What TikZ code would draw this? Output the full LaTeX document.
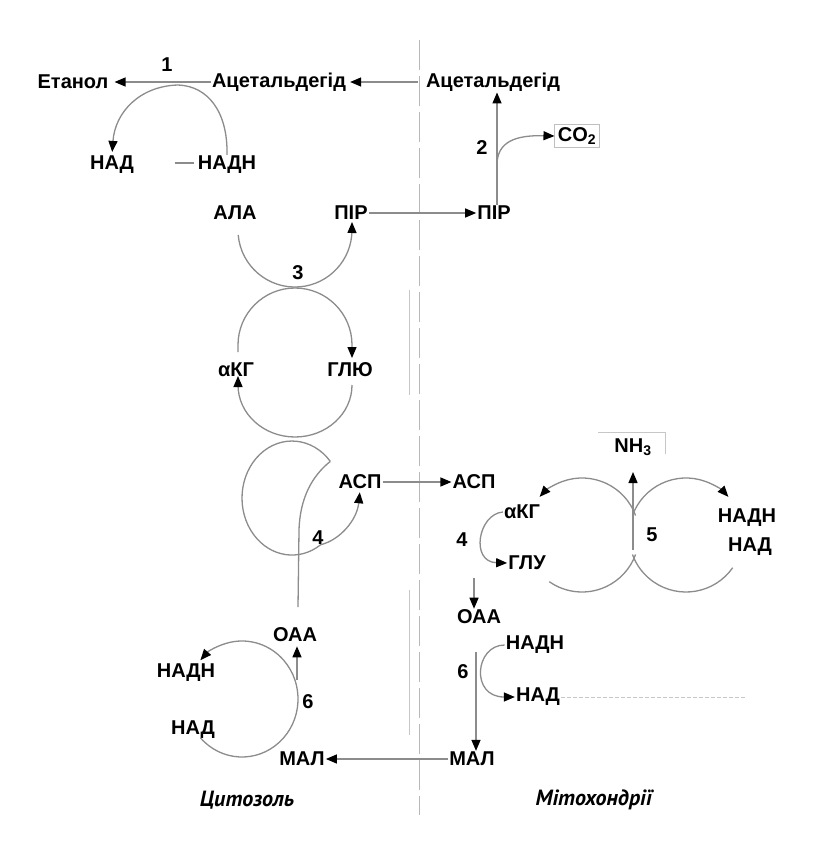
\documentclass[tikz,border=0pt]{standalone}
\usepackage{fontspec}
\setmainfont{Liberation Sans}
\newfontfamily\captionfont{PT Sans}
\usetikzlibrary{arrows.meta,calc}

\begin{document}
\begin{tikzpicture}[x=1pt,y=1pt,
  lbl/.style={font=\bfseries\fontsize{20}{24}\selectfont, inner sep=1pt},
  compartment/.style={font=\captionfont\bfseries\itshape\fontsize{22}{26}\selectfont, inner sep=1pt},
  ln/.style={draw=black!45, line width=1.3pt},
  arr/.style={ln, -{Triangle[length=11pt,width=9pt,color=black]}},
  faint/.style={draw=black!22, line width=0.9pt},
  membrane/.style={draw=black!28, line width=1pt, dash pattern=on 30pt off 6pt}]

\fill[white] (0,0) rectangle (813,-842);
\useasboundingbox (0,0) rectangle (813,-842);

% membrane between cytosol and mitochondrion
\draw[membrane] (419,-40) -- (419,-815);
\draw[faint] (409,-290) -- (409,-395);
\draw[faint] (409,-590) -- (409,-735);

% ---- labels ----
\node[lbl] (etanol) at (73,-82) {Етанол};
\node[lbl] (acl) at (279,-82) {Ацетальдегід};
\node[lbl] (acr) at (493,-82) {Ацетальдегід};
\node[lbl] (n1) at (167,-65) {1};
\node[lbl] (nad1) at (112,-165) {НАД};
\node[lbl] (nadh1) at (227,-165) {НАДН};
\node[lbl] (n2) at (482,-148) {2};
\node[lbl, draw=black!25, line width=0.8pt, inner sep=3pt] (co2) at (577,-136) {CO\textsubscript{2}};
\node[lbl] (ala) at (235,-213) {АЛА};
\node[lbl] (pirl) at (351,-213) {ПІР};
\node[lbl] (pirr) at (494,-213) {ПІР};
\node[lbl] (n3) at (298,-273) {3};
\node[lbl] (akg1) at (236,-370) {αКГ};
\node[lbl] (glu1) at (350,-370) {ГЛЮ};
\node[lbl] (asp1) at (360,-482) {АСП};
\node[lbl] (asp2) at (474,-482) {АСП};
\node[lbl] (n4l) at (318,-538) {4};
\node[lbl] (oaal) at (295,-635) {ОАА};
\node[lbl] (n6l) at (308,-702) {6};
\node[lbl] (nadh2) at (186,-673) {НАДН};
\node[lbl] (nad2) at (193,-730) {НАД};
\node[lbl] (mall) at (302,-759) {МАЛ};
\node[lbl] (malr) at (472,-759) {МАЛ};
\node[lbl] (oaar) at (479,-617) {ОАА};
\node[lbl] (nadh3) at (535,-645) {НАДН};
\node[lbl] (nad3) at (538,-697) {НАД};
\node[lbl] (n6r) at (463,-672) {6};
\node[lbl] (akg2) at (522,-512) {αКГ};
\node[lbl] (glu2) at (527,-563) {ГЛУ};
\node[lbl] (n4r) at (462,-540) {4};
\node[lbl] (nh3) at (633,-447) {NH\textsubscript{3}};
\node[lbl] (n5) at (652,-535) {5};
\node[lbl] (nadh4) at (747,-518) {НАДН};
\node[lbl] (nad4) at (750,-547) {НАД};
\node[compartment] (cyto) at (247,-800) {Цитозоль};
\node[compartment] (mito) at (594,-800) {Мітохондрії};

% ---- reaction 1: acetaldehyde -> ethanol ----
\coordinate (m1) at (418,-82);
\draw[arr, shorten >=3pt] (m1) -- (acl.east);
\draw[arr, shorten >=5pt] (acl.west) -- (etanol.east);
\draw[arr, shorten >=3pt] (nadh1.north) .. controls (228,-112) and (208,-86) .. (178,-85)
  .. controls (140,-86) and (115,-112) .. (nad1.north);
\draw[ln] ($(nadh1.west)+(-22,2)$) -- ($(nadh1.west)+(-3,2)$);

% ---- reaction 2: pyruvate decarboxylation ----
\coordinate (p2) at (497,-200);
\coordinate (b2) at (497,-165);
\draw[arr] (pirr.north -| p2) -- (acr.south -| p2);
\draw[arr] (b2) .. controls (497,-142) and (515,-135) .. (co2.west);

% pyruvate transport
\draw[arr] (pirl.east) -- (pirr.west);

% ---- reaction 3: transamination ----
\draw[arr] (238.2,-235) arc[start angle=185, end angle=360, radius=57] -- (352,-222);
\draw[arr] (238,-352) -- (238,-345) arc[start angle=180, end angle=0, radius=57] -- (352,-358);
\draw[arr] (352,-385) arc[start angle=0, end angle=-180, x radius=57, y radius=52] -- (238,-376);

% ---- reaction 4 (cytosol) ----
\coordinate (t4) at (330.3,-461.4);
\coordinate (o4) at (298,-607);
\draw[arr, shorten >=2pt] (t4) arc[start angle=40, end angle=305, x radius=50, y radius=57]
  .. controls (340,-540) and (357,-520) .. (asp1.south);
\draw[ln] (t4) .. controls (312,-476) and (300,-498) .. (299,-530) -- (o4);

% aspartate transport
\draw[arr] (asp1.east) -- (asp2.west);

% ---- reaction 6 (cytosol) ----
\draw[arr] (200.4,-737.8) arc[start angle=222, end angle=498, x radius=56, y radius=58];
\coordinate (c6) at (297,-680);
\draw[arr, shorten >=3pt] (c6) -- (c6 |- oaal.south);

% malate transport
\draw[arr] (malr.west) -- (mall.east);

% ---- reaction 4 (mitochondrion) ----
\draw[arr] (akg2.west) .. controls (478,-514) and (470,-562) .. (glu2.west);
\coordinate (g4) at (474,-578);
\draw[arr] (g4) -- (g4 |- oaar.north);

% ---- reaction 6 (mitochondrion) ----
\coordinate (m6) at (476,-652);
\draw[arr] (m6) -- (m6 |- malr.north);
\draw[arr] (nadh3.west) .. controls (475,-645) and (470,-697) .. (nad3.west);
\coordinate (d6) at (745,-697);
\draw[faint, dash pattern=on 4pt off 2pt] (nad3.east) -- (d6);

% ---- reaction 5: glutamate dehydrogenase ----
\draw[ln] ($(582,-535)+(235:57)$) arc[start angle=235, end angle=340, radius=57];
\draw[arr] ($(582,-535)+(20:57)$) arc[start angle=20, end angle=138, radius=57];
\draw[arr] ($(686,-535)+(160:57)$) arc[start angle=160, end angle=42, radius=57];
\draw[ln] ($(686,-535)+(-35:57)$) arc[start angle=-35, end angle=-160, radius=57];
\coordinate (j5) at (633,-550);
\coordinate (a5) at (633,-472);
\draw[arr] (j5) -- (a5);
\draw[faint] (598,-432) -- (665,-432) -- (665,-454);

\end{tikzpicture}
\end{document}
